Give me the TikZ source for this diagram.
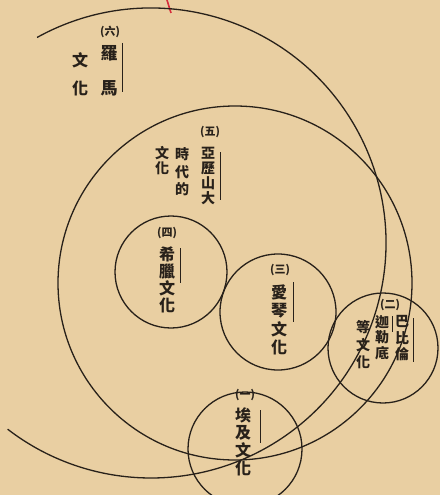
\documentclass[tikz,border=0pt]{standalone}
\usepackage{fontspec}
\newfontfamily\cjk{Noto Sans CJK TC}
\definecolor{paper}{RGB}{233,207,162}
\definecolor{ink}{RGB}{40,33,26}
\definecolor{redmark}{RGB}{215,45,60}
\tikzset{
  ring/.style={draw=ink, line width=1.3pt},
  col/.style={inner sep=0pt, outer sep=0pt, text=ink, align=center},
  num/.style={inner sep=0pt, text=ink, font=\cjk\bfseries\fontsize{11}{12}\selectfont},
  namebar/.style={draw=ink, line width=0.9pt}
}
\begin{document}
\begin{tikzpicture}[x=1pt,y=1pt]
\fill[paper] (0,0) rectangle (440,-495);
\useasboundingbox (0,0) rectangle (440,-495);
\clip (0,0) rectangle (440,-495);
% red pencil mark
\draw[redmark, line width=1.6pt] (167,0) -- (171,-13);
% large arcs
\draw[ring] (151,-243) ++(119:235) arc[start angle=119, end angle=-127.6, radius=235];
\draw[ring] (235,-283) circle[radius=177];
% small circles
\draw[ring] (171,-272) circle[radius=56];
\draw[ring] (278,-312) circle[radius=58];
\draw[ring] (383,-348) circle[radius=55];
\draw[ring] (245,-449) circle[radius=57];
% (六)
\node[num] (n6) at (110,-32) {(六)};
\node[col, font=\cjk\bfseries\fontsize{17}{35}\selectfont] (luoma) at (109,-70.5) {羅\\馬};
\node[col, font=\cjk\bfseries\fontsize{16}{28}\selectfont] (wh6) at (80,-74) {文\\化};
\draw[namebar] (122,-43) -- (122,-92);
% (五)
\node[num] (n5) at (210,-132) {(五)};
\node[col, font=\cjk\bfseries\fontsize{14}{15}\selectfont] (yali) at (208,-176) {亞\\歷\\山\\大};
\node[col, font=\cjk\bfseries\fontsize{14}{17.5}\selectfont] (shidai) at (182,-172) {時\\代\\的};
\node[col, font=\cjk\bfseries\fontsize{14}{15}\selectfont] (wh5) at (162,-160.5) {文\\化};
\draw[namebar] (220,-152) -- (220,-200);
% (四)
\node[num] (n4) at (167,-233) {(四)};
\node[col, font=\cjk\bfseries\fontsize{16}{17}\selectfont] (xila) at (167,-280) {希\\臘\\文\\化};
\draw[namebar] (180,-248) -- (180,-283);
% (三)
\node[num] (n3) at (280,-270) {(三)};
\node[col, font=\cjk\bfseries\fontsize{16}{18.5}\selectfont] (aiqin) at (279,-320) {愛\\琴\\文\\化};
\draw[namebar] (293,-282) -- (293,-322);
% (二)
\node[num] (n2) at (390,-305) {(二)};
\node[col, font=\cjk\bfseries\fontsize{14}{16.5}\selectfont] (babilun) at (402,-338.5) {巴\\比\\倫};
\node[col, font=\cjk\bfseries\fontsize{14}{15.5}\selectfont] (jialedi) at (382,-337.5) {迦\\勒\\底};
\node[col, font=\cjk\bfseries\fontsize{14}{17.5}\selectfont] (deng) at (363,-345) {等\\文\\化};
\draw[namebar] (413,-318) -- (413,-362);
\draw[namebar] (392,-316) -- (392,-332);
% (一)
\node[num] (n1) at (245,-395) {(一)};
\node[col, font=\cjk\bfseries\fontsize{16}{17.7}\selectfont] (aiji) at (243,-441.5) {埃\\及\\文\\化};
\draw[namebar] (260,-410) -- (260,-443);
\end{tikzpicture}
\end{document}
